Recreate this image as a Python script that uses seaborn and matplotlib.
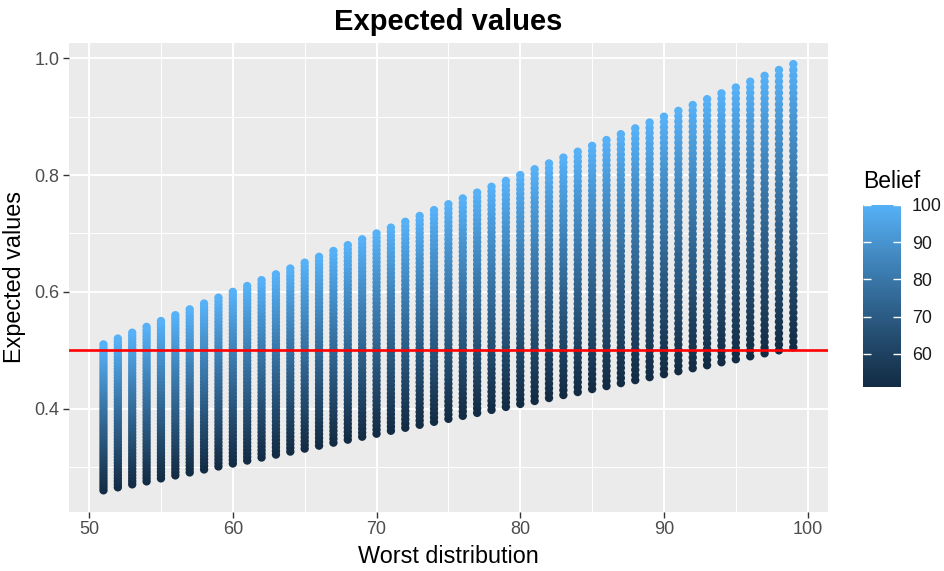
import numpy as np
import pandas as pd
import matplotlib
matplotlib.use("Agg")
import matplotlib.pyplot as plt
import seaborn as sns
from matplotlib.colors import LinearSegmentedColormap, Normalize
from matplotlib.cm import ScalarMappable

# ---- data ----
worst = [51, 52, 53, 54, 55, 56, 57, 58, 59, 60, 61, 62, 63, 64, 65, 66, 67,
         68, 69, 70, 71, 72, 73, 74, 75, 76, 77, 78, 79, 80, 81, 82, 83, 84,
         85, 86, 87, 88, 89, 90, 91, 92, 93, 94, 95, 96, 97, 98, 99]
belief = [51, 52, 53, 54, 55, 56, 57, 58, 59, 60, 61, 62, 63, 64, 65, 66, 67,
          68, 69, 70, 71, 72, 73, 74, 75, 76, 77, 78, 79, 80, 81, 82, 83, 84,
          85, 86, 87, 88, 89, 90, 91, 92, 93, 94, 95, 96, 97, 98, 99, 100]
threshold = 0.5
x_ticks = [50, 60, 70, 80, 90, 100]
y_ticks = [0.4, 0.6, 0.8, 1.0]
cb_ticks = [60, 70, 80, 90, 100]

rows = []
for w in worst:
    for b in belief:
        rows.append({"Worst distribution": w, "Belief": b,
                     "Expected values": (w / 100.0) * (b / 100.0)})
df = pd.DataFrame(rows)

# ---- ggplot-like gradient (#132B43 -> #56B1F7) in Lab space ----
def hex2rgb(h):
    h = h.lstrip('#')
    return np.array([int(h[i:i + 2], 16) / 255 for i in (0, 2, 4)])

M = np.array([[0.4124564, 0.3575761, 0.1804375],
              [0.2126729, 0.7151522, 0.0721750],
              [0.0193339, 0.1191920, 0.9503041]])
WP = np.array([0.95047, 1.0, 1.08883])

def rgb2lab(c):
    lin = np.where(c <= 0.04045, c / 12.92, ((c + 0.055) / 1.055) ** 2.4)
    xyz = M @ lin / WP
    f = np.where(xyz > 0.008856, np.cbrt(xyz), 7.787 * xyz + 16 / 116)
    return np.array([116 * f[1] - 16, 500 * (f[0] - f[1]), 200 * (f[1] - f[2])])

def lab2rgb(lab):
    L, a, bb = lab
    fy = (L + 16) / 116
    fx = fy + a / 500
    fz = fy - bb / 200
    f = np.array([fx, fy, fz])
    xyz = np.where(f ** 3 > 0.008856, f ** 3, (f - 16 / 116) / 7.787) * WP
    lin = np.linalg.inv(M) @ xyz
    lin = np.clip(lin, 0, 1)
    c = np.where(lin <= 0.0031308, 12.92 * lin, 1.055 * lin ** (1 / 2.4) - 0.055)
    return np.clip(c, 0, 1)

lab_lo = rgb2lab(hex2rgb('#132B43'))
lab_hi = rgb2lab(hex2rgb('#56B1F7'))
cols = [lab2rgb(lab_lo + t * (lab_hi - lab_lo)) for t in np.linspace(0, 1, 64)]
cmap = LinearSegmentedColormap.from_list("gg", cols)
norm = Normalize(vmin=min(belief), vmax=max(belief))

# ---- figure ----
sns.set_theme(style="darkgrid")
plt.rcParams['font.family'] = ['Liberation Sans', 'DejaVu Sans']

fig = plt.figure(figsize=(9.45, 5.71), dpi=100)
ax = fig.add_axes([0.073, 0.104, 0.803, 0.821])
ax.set_facecolor('#EBEBEB')

sns.scatterplot(data=df, x="Worst distribution", y="Expected values",
                hue="Belief", palette=cmap, hue_norm=norm, s=36,
                linewidth=0, legend=False, ax=ax, zorder=3)
ax.axhline(threshold, color='#FF0000', lw=1.9, zorder=4)

ax.set_xlim(48.6, 101.4)
ax.set_ylim(0.2236, 1.0265)
ax.set_xticks(x_ticks)
ax.set_yticks(y_ticks)
ax.set_xticklabels([str(t) for t in x_ticks])
ax.set_yticklabels([f"{t:.1f}" for t in y_ticks])
ax.set_xticks([55, 65, 75, 85, 95], minor=True)
ax.set_yticks([0.3, 0.5, 0.7, 0.9], minor=True)
ax.grid(which='major', color='white', lw=1.4, zorder=0)
ax.grid(which='minor', color='white', lw=0.7, zorder=0)
ax.set_axisbelow(True)
for sp in ax.spines.values():
    sp.set_visible(False)
ax.tick_params(axis='both', which='major', length=4, width=1, color='#333333',
               labelsize=13, labelcolor='#4D4D4D', pad=3, bottom=True, left=True)
ax.tick_params(axis='both', which='minor', length=0)
ax.set_xlabel("Worst distribution", fontsize=16.8, color='black', labelpad=5)
ax.set_ylabel("Expected values", fontsize=16.8, color='black', labelpad=6)
ax.set_title("Expected values", fontsize=21, fontweight='bold', color='black',
             pad=9)

# ---- colorbar ----
cax = fig.add_axes([0.9135, 0.322, 0.0397, 0.319])
cb = fig.colorbar(ScalarMappable(norm=norm, cmap=cmap), cax=cax)
cb.outline.set_visible(False)
cb.set_ticks(cb_ticks)
cax.tick_params(axis='y', which='major', direction='in', length=0,
                left=False, right=True, labelleft=False,
                labelright=True, labelsize=12.8, labelcolor='#1A1A1A', pad=8)
cax.tick_params(axis='y', which='minor', length=0)
cax.grid(False)
# white inner tick marks (ggplot colourbar style)
for t in cb_ticks:
    cax.plot([0, 0.2], [t, t], color='white', lw=1, transform=cax.get_yaxis_transform(),
             zorder=5, solid_capstyle='butt')
    cax.plot([0.8, 1.0], [t, t], color='white', lw=1, transform=cax.get_yaxis_transform(),
             zorder=5, solid_capstyle='butt')
fig.text(0.9135, 0.662, "Belief", fontsize=16.5, color='black', ha='left',
         va='bottom')

fig.savefig("out.png", dpi=100, facecolor='white')
